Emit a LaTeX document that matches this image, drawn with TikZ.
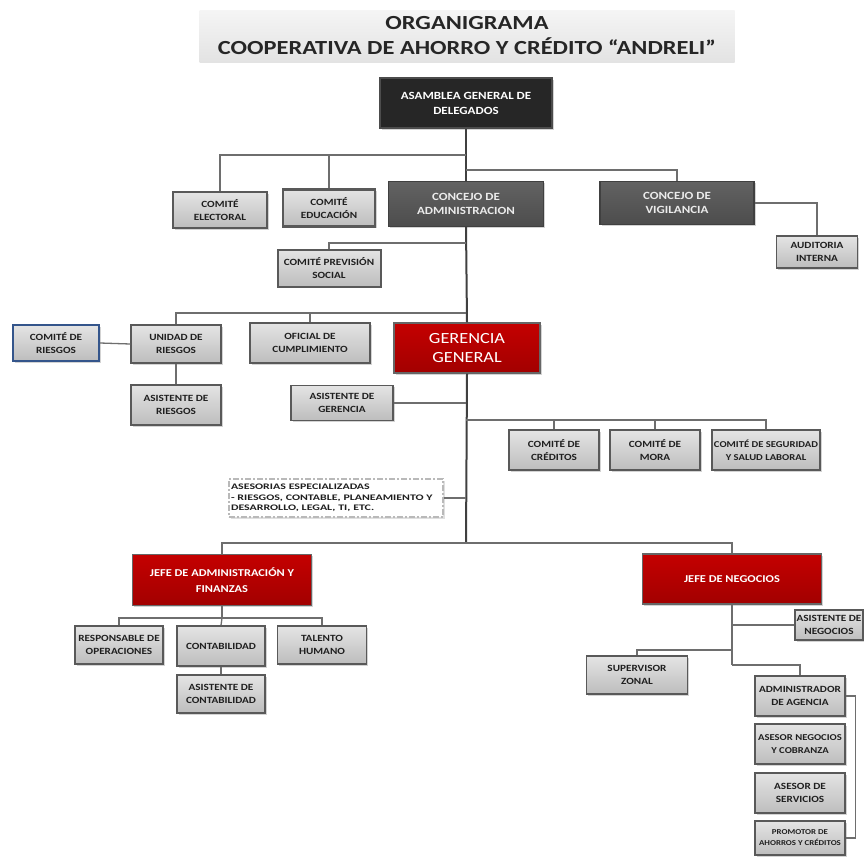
\documentclass[tikz,border=0pt]{standalone}
\usepackage{fontspec}
\setmainfont{Carlito}
\newfontfamily\widefont[FakeStretch=1.18]{Carlito}
\newfontfamily\titlefont[FakeStretch=1.22]{Carlito}
\newfontfamily\notefont[FakeStretch=1.4]{Carlito}
\usetikzlibrary{shadows}

\definecolor{boxline}{HTML}{595959}
\definecolor{boxtop}{HTML}{E4E4E4}
\definecolor{boxbot}{HTML}{BDBDBD}
\definecolor{darkfill}{HTML}{5A5A5A}
\definecolor{blackfill}{HTML}{262626}
\definecolor{redtop}{HTML}{C40000}
\definecolor{redbot}{HTML}{A20000}
\definecolor{bluelinea}{HTML}{34558B}
\definecolor{linea}{HTML}{6E6E6E}
\definecolor{mainlinea}{HTML}{404040}

\tikzset{
  unit/.style={draw=boxline, line width=1.4pt, top color=boxtop, bottom color=boxbot,
    align=center, inner sep=0.5pt, text=black!88,
    font=\widefont\bfseries\fontsize{9.5}{13}\selectfont,
    drop shadow={shadow xshift=1.5pt, shadow yshift=-1.5pt, opacity=0.35}},
  darkunit/.style={unit, top color=darkfill!95!white, bottom color=darkfill!85!black,
    draw=black!75, text=white!92!black, font=\widefont\bfseries\fontsize{11}{14}\selectfont},
  redunit/.style={unit, top color=redtop, bottom color=redbot, draw=black!60, text=white,
    font=\widefont\bfseries\fontsize{10.5}{16}\selectfont},
  branch/.style={draw=linea, line width=1.3pt},
  mainbranch/.style={draw=mainlinea, line width=2pt},
}

\begin{document}
\begin{tikzpicture}[x=1pt, y=-1pt]
		\useasboundingbox (0,0) rectangle (864,857);

		% title
		\node[draw=none, top color=gray!8, bottom color=gray!22, minimum width=535, minimum height=52,
			align=center, font=\titlefont\bfseries\fontsize{20}{25}\selectfont, text=black!85] (titulo) at (467,36)
			{ORGANIGRAMA\\COOPERATIVA DE AHORRO Y CRÉDITO “ANDRELI”};

		% top level
		\node[unit, top color=blackfill, bottom color=blackfill, draw=black!70, text=white,
			font=\widefont\bfseries\fontsize{11}{15}\selectfont,
			minimum width=172, minimum height=50] (asamblea) at (466,103) {ASAMBLEA GENERAL DE\\DELEGADOS};
		\node[unit, line width=2.4pt, minimum width=94, minimum height=36] (electoral) at (220,210) {COMITÉ\\ELECTORAL};
		\node[unit, line width=2.4pt, minimum width=92, minimum height=37] (educacion) at (329,208) {COMITÉ\\EDUCACIÓN};
		\node[darkunit, minimum width=155, minimum height=45] (admin) at (466,204) {CONCEJO DE\\ADMINISTRACION};
		\node[darkunit, minimum width=154, minimum height=43] (vigilancia) at (677,203) {CONCEJO DE\\VIGILANCIA};
		\node[unit, minimum width=81, minimum height=32] (auditoria) at (817,252) {AUDITORIA\\INTERNA};
		\node[unit, line width=2pt, minimum width=103, minimum height=37] (prevision) at (329,268) {COMITÉ PREVISIÓN\\SOCIAL};

		% riesgos and cumplimiento
		\node[unit, draw=bluelinea, line width=2pt, minimum width=86, minimum height=36] (comriesgos) at (56,343) {COMITÉ DE\\RIESGOS};
		\node[unit, minimum width=90, minimum height=38] (unidad) at (176,344) {UNIDAD DE\\RIESGOS};
		\node[unit, minimum width=120, minimum height=40] (oficial) at (310,343) {OFICIAL DE\\CUMPLIMIENTO};
		\node[unit, minimum width=90, minimum height=40] (asisriesgos) at (176,405) {ASISTENTE DE\\RIESGOS};

		% gerencia
		\node[redunit, font=\widefont\fontsize{15.5}{19}\selectfont, minimum width=146, minimum height=50] (gerencia) at (467,348) {GERENCIA\\GENERAL};
		\node[unit, minimum width=102, minimum height=35] (asisger) at (342,403) {ASISTENTE DE\\GERENCIA};
		\node[unit, minimum width=90, minimum height=40] (creditos) at (554,450) {COMITÉ DE\\CRÉDITOS};
		\node[unit, minimum width=90, minimum height=40] (mora) at (655,450) {COMITÉ DE\\MORA};
		\node[unit, font=\widefont\bfseries\fontsize{9}{13}\selectfont, minimum width=108, minimum height=40] (seguridad) at (766,450) {COMITÉ DE SEGURIDAD\\Y SALUD LABORAL};
		\node[draw=gray!55, dash pattern=on 6pt off 2pt on 2pt off 2pt, line width=1.2pt, fill=white,
			align=left, text width=210, inner sep=2pt, text=black!88,
			font=\notefont\bfseries\fontsize{8.5}{10.5}\selectfont, minimum height=38,
			drop shadow={shadow xshift=1.5pt, shadow yshift=-1.5pt, opacity=0.25}] (asesorias) at (336,498)
			{ASESORIAS ESPECIALIZADAS\\- RIESGOS, CONTABLE, PLANEAMIENTO Y\\DESARROLLO, LEGAL, TI, ETC.};

		% administracion y finanzas
		\node[redunit, minimum width=179, minimum height=51] (jefeadm) at (222,580) {JEFE DE ADMINISTRACIÓN Y\\FINANZAS};
		\node[unit, minimum width=88, minimum height=38] (operaciones) at (119,645) {RESPONSABLE DE\\OPERACIONES};
		\node[unit, minimum width=88, minimum height=40] (contab) at (221,646) {CONTABILIDAD};
		\node[unit, minimum width=89, minimum height=38] (talento) at (322,645) {TALENTO\\HUMANO};
		\node[unit, minimum width=88, minimum height=38] (asiscont) at (221,694) {ASISTENTE DE\\CONTABILIDAD};

		% negocios
		\node[redunit, minimum width=179, minimum height=50] (jefeneg) at (732,579) {JEFE DE NEGOCIOS};
		\node[unit, minimum width=68, minimum height=30] (asisneg) at (829,625) {ASISTENTE DE\\NEGOCIOS};
		\node[unit, minimum width=101, minimum height=38] (supervisor) at (637,675) {SUPERVISOR\\ZONAL};
		\node[unit, minimum width=90, minimum height=40] (administrador) at (800,696) {ADMINISTRADOR\\DE AGENCIA};
		\node[unit, font=\widefont\bfseries\fontsize{9}{13}\selectfont, minimum width=90, minimum height=40] (asesorneg) at (800,744) {ASESOR NEGOCIOS\\Y COBRANZA};
		\node[unit, minimum width=90, minimum height=40] (servicios) at (800,793) {ASESOR DE\\SERVICIOS};
		\node[unit, font=\widefont\bfseries\fontsize{7.5}{11}\selectfont, minimum width=90, minimum height=34] (promotor) at (800,838) {PROMOTOR DE\\AHORROS Y CRÉDITOS};

		% junctions on the main line
		\coordinate (j1) at (466,155);
		\coordinate (j2) at (466,170);
		\coordinate (j3) at (466,243);
		\coordinate (j4) at (466,313);
		\coordinate (j5) at (466,420);
		\coordinate (j6) at (466,543);
		\coordinate (j7) at (222,618);
		\coordinate (j8) at (732,665);
		\coordinate (j9) at (732,650);

		% main line
		\draw[mainbranch] (asamblea.south) -- (admin.north);
		\draw[mainbranch] (admin.south) -- (gerencia.north);
		\draw[mainbranch] (gerencia.south) -- (j6);

		% branches
		\draw[branch] (j1) -| (electoral.north);
		\draw[branch] (j1) -| (educacion.north);
		\draw[branch] (j2) -| (vigilancia.north);
		\draw[branch] (vigilancia.east) -| (auditoria.north);
		\draw[branch] (j3) -| (prevision.north);
		\draw[branch] (j4) -| (unidad.north);
		\draw[branch] (j4) -| (oficial.north);
		\draw[branch] (comriesgos.east) -- (unidad.west);
		\draw[branch] (unidad.south) -- (asisriesgos.north);
		\draw[branch] (asisger.east) -- (asisger.east -| j5);
		\draw[branch] (j5) -| (creditos.north);
		\draw[branch] (j5) -| (mora.north);
		\draw[branch] (j5) -| (seguridad.north);
		\draw[branch] (asesorias.east) -- (asesorias.east -| j5);
		\draw[branch] (j6) -| (jefeadm.north);
		\draw[branch] (j6) -| (jefeneg.north);

		% administracion y finanzas branches
		\draw[branch] (jefeadm.south) -- (j7);
		\draw[branch] (j7) -| (operaciones.north);
		\draw[branch] (j7) -| (talento.north);
		\draw[branch] (j7) -- (contab.north);
		\draw[branch] (contab.south) -- (asiscont.north);

		% negocios branches
		\draw[branch] (jefeneg.south) -- (j8);
		\draw[branch] (asisneg.west) -- (asisneg.west -| j8);
		\draw[branch] (j9) -| (supervisor.north);
		\draw[branch] (j8) -| (administrador.north);
		\draw[branch] (administrador.east) -- ++(10,0) |- (promotor.east);
	\end{tikzpicture}
\end{document}
